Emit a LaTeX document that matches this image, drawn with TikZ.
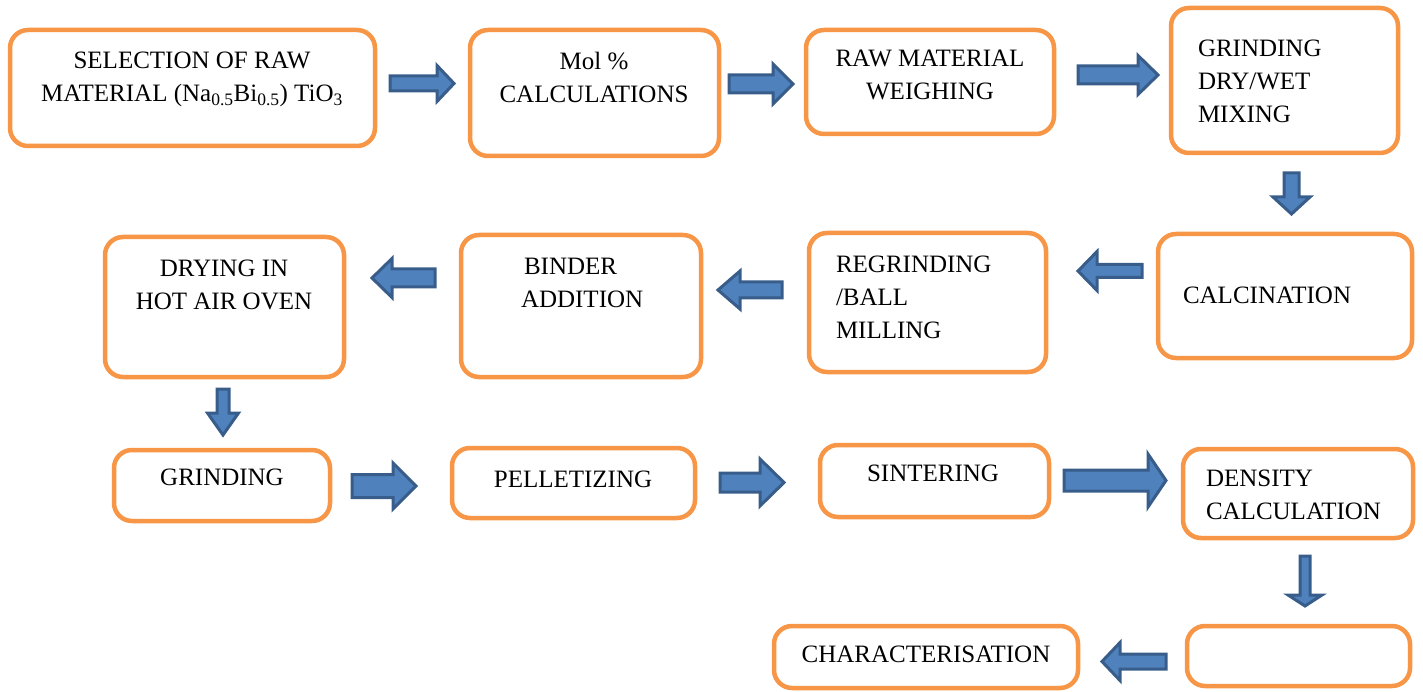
\documentclass[tikz,border=0pt]{standalone}
\usepackage{fontspec}
\setmainfont{Liberation Serif}
\definecolor{boxorange}{HTML}{F79646}
\definecolor{arrowfill}{HTML}{4F81BD}
\definecolor{arrowedge}{HTML}{385D8A}
% horizontal block arrow: tail x, head base x, tip x, centre y, shaft half width, head half width
\newcommand\harrow[6]{%
  \draw[blockarrow] ({#1},{#4-#5}) -- ({#2},{#4-#5}) -- ({#2},{#4-#6}) -- ({#3},{#4})
    -- ({#2},{#4+#6}) -- ({#2},{#4+#5}) -- ({#1},{#4+#5}) -- cycle;}
% vertical block arrow: centre x, tail y, head base y, tip y, shaft half width, head half width
\newcommand\varrow[6]{%
  \draw[blockarrow] ({#1-#5},{#2}) -- ({#1-#5},{#3}) -- ({#1-#6},{#3}) -- ({#1},{#4})
    -- ({#1+#6},{#3}) -- ({#1+#5},{#3}) -- ({#1+#5},{#2}) -- cycle;}
% rounded process box between two corners
\newcommand\procbox[5]{%
  \node[procbox, minimum width={#4-#2}, minimum height={#5-#3}] (#1) at ({(#2+#4)/2},{(#3+#5)/2}) {};}
\tikzset{
  procbox/.style={draw=boxorange, line width=4.5pt, rounded corners=18pt, fill=white,
    inner sep=0pt, outer sep=0pt},
  blockarrow/.style={draw=arrowedge, fill=arrowfill, line width=3pt, line join=miter},
  lbl/.style={inner sep=0pt, outer sep=0pt, font=\fontsize{25}{33}\selectfont},
}
\begin{document}
\begin{tikzpicture}[x=1pt, y=-1pt]
\useasboundingbox (0,0) rectangle (1423,692);

% process boxes
\procbox{b1}{10}{30}{375}{146}
\procbox{b2}{470}{30}{719}{156}
\procbox{b3}{806}{30}{1054}{134}
\procbox{b4}{1171}{8}{1398}{153}
\procbox{b5}{1158}{234}{1412}{358}
\procbox{b6}{809}{233}{1046}{372}
\procbox{b7}{461}{235}{701}{377}
\procbox{b8}{105}{237}{344}{377}
\procbox{b9}{114}{450}{330}{521}
\procbox{b10}{452}{448}{695}{518}
\procbox{b11}{820}{445}{1049}{517}
\procbox{b12}{1183}{449}{1413}{538}
\procbox{b13}{1187}{626}{1410}{686}
\procbox{b14}{774}{626}{1078}{688}

% labels (anchored at the baseline of the last line)
\node[lbl, anchor=base, align=center] (t1) at (192,102) {SELECTION OF RAW\\MATERIAL (Na\textsubscript{0.5}Bi\textsubscript{0.5}) TiO\textsubscript{3}};
\node[lbl, anchor=base, align=center] (t2) at (594,103) {Mol \%\\CALCULATIONS};
\node[lbl, anchor=base, align=center] (t3) at (930,100) {RAW MATERIAL\\WEIGHING};
\node[lbl, anchor=base west, align=left] (t4) at (1198,123) {GRINDING\\DRY/WET\\MIXING};
\node[lbl, anchor=base west] (t5) at (1183,304) {CALCINATION};
\node[lbl, anchor=base west, align=left] (t6) at (836,338) {REGRINDING\\/BALL\\MILLING};
\node[lbl, anchor=base west, align=left] (t7) at (521,308) {\hspace{3pt}BINDER\\ADDITION};
\node[lbl, anchor=base, align=center] (t8) at (224,310) {DRYING IN\\HOT AIR OVEN};
\node[lbl, anchor=base] (t9) at (222,485) {GRINDING};
\node[lbl, anchor=base] (t10) at (573,487) {PELLETIZING};
\node[lbl, anchor=base] (t11) at (933,481) {SINTERING};
\node[lbl, anchor=base west, align=left] (t12) at (1206,519) {DENSITY\\CALCULATION};
\node[lbl, anchor=base] (t14) at (926,662) {CHARACTERISATION};

% block arrows between the steps
\harrow{390}{437}{454}{83.5}{7.5}{18}
\harrow{729}{773}{793}{84}{9}{20}
\harrow{1078}{1138}{1158}{75}{9}{19.5}
\varrow{1291.5}{173}{197}{214}{7.5}{18.5}
\harrow{1142}{1097}{1078}{271}{6.5}{19.5}
\harrow{782}{740}{718}{290}{8}{19}
\harrow{435}{392}{372}{278}{9}{19.5}
\varrow{223}{389}{413}{435}{6}{15.5}
\harrow{352}{393}{416}{486}{11.5}{23}
\harrow{720}{760}{784}{482.5}{9.5}{23.5}
\harrow{1064}{1148}{1166}{480.5}{10.5}{26.5}
\varrow{1305}{556}{595}{606}{5}{17}
\harrow{1166}{1120}{1102}{661.5}{7.5}{19}
\end{tikzpicture}
\end{document}
